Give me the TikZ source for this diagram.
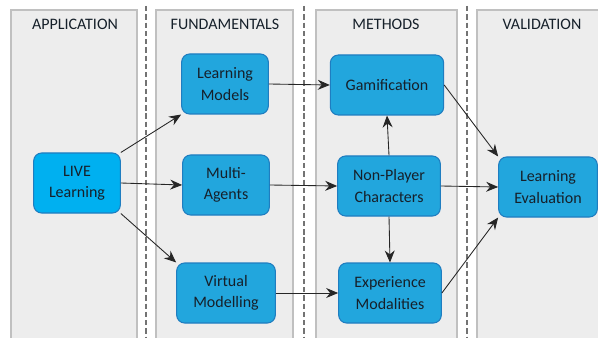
\documentclass[tikz,border=0pt]{standalone}
\usepackage{fontspec}
\setmainfont{Carlito}
\usetikzlibrary{arrows.meta}

\definecolor{panelgray}{HTML}{EDEDED}
\definecolor{panelline}{HTML}{C0C0C0}
\definecolor{boxblue}{HTML}{22A6DD}
\definecolor{liveblue}{HTML}{00B0F0}
\definecolor{boxline}{HTML}{1F7DC0}
\definecolor{textdark}{HTML}{16202A}

\begin{document}
\begin{tikzpicture}[x=0.75pt,y=-0.75pt,
  panel/.style={fill=panelgray,draw=panelline,line width=0.9pt},
  divider/.style={draw=gray!90!black,line width=1.6pt,dash pattern=on 4pt off 2.2pt},
  heading/.style={font=\fontsize{12}{14}\selectfont,text=textdark},
  block/.style={draw=boxline,fill=boxblue,rounded corners=6pt,line width=0.8pt,
    minimum height=45pt,align=center,inner sep=2pt,
    font=\fontsize{12}{16}\selectfont,text=textdark},
  link/.style={-{Stealth[length=9pt,width=7.5pt,inset=3pt]},line width=0.65pt,draw=black!85}]
  \useasboundingbox (0,0) rectangle (598,338);
  \fill[white] (0,0) rectangle (598,338);
  \clip (0,0) rectangle (598,338);

  % columns
  \draw[panel] (11,10) rectangle (137,350);
  \draw[panel] (156,10) rectangle (293,350);
  \draw[panel] (316,10) rectangle (457,350);
  \draw[panel] (477,10) rectangle (620,350);

  \draw[divider] (146,6) -- (146,338);
  \draw[divider] (304,6) -- (304,338);
  \draw[divider] (467,6) -- (467,338);

  \node[heading] (happ) at (75,24) {APPLICATION};
  \node[heading] (hfun) at (225,24) {FUNDAMENTALS};
  \node[heading] (hmet) at (386,24) {METHODS};
  \node[heading] (hval) at (542,24) {VALIDATION};

  % boxes
  \node[block,fill=liveblue,minimum width=65pt] (live) at (77,183) {LIVE\\Learning};
  \node[block,minimum width=65pt] (models) at (225,84) {Learning\\Models};
  \node[block,minimum width=65pt] (agents) at (226,185) {Multi-\\Agents};
  \node[block,minimum width=74pt] (virtual) at (226,293) {Virtual\\Modelling};
  \node[block,minimum width=85pt] (gami) at (387,85) {Gamification};
  \node[block,minimum width=77pt] (npc) at (389,186) {Non-Player\\Characters};
  \node[block,minimum width=77pt] (exper) at (390,293) {Experience\\Modalities};
  \node[block,minimum width=74pt] (evalu) at (548,187) {Learning\\Evaluation};

  % connections
  \draw[link] (live.north east) -- (models.south west);
  \draw[link] (live.east) -- (agents.west);
  \draw[link] (live.south east) -- (virtual.north west);
  \draw[link] (models.east) -- (gami.west);
  \draw[link] (agents.east) -- (npc.west);
  \draw[link] (virtual.east) -- (exper.west);
  \draw[link] (npc.north) -- (gami.south);
  \draw[link] (npc.south) -- (exper.north);
  \draw[link] (gami.east) -- (evalu.north west);
  \draw[link] (npc.east) -- (evalu.west);
  \draw[link] (exper.east) -- (evalu.south west);
\end{tikzpicture}
\end{document}
